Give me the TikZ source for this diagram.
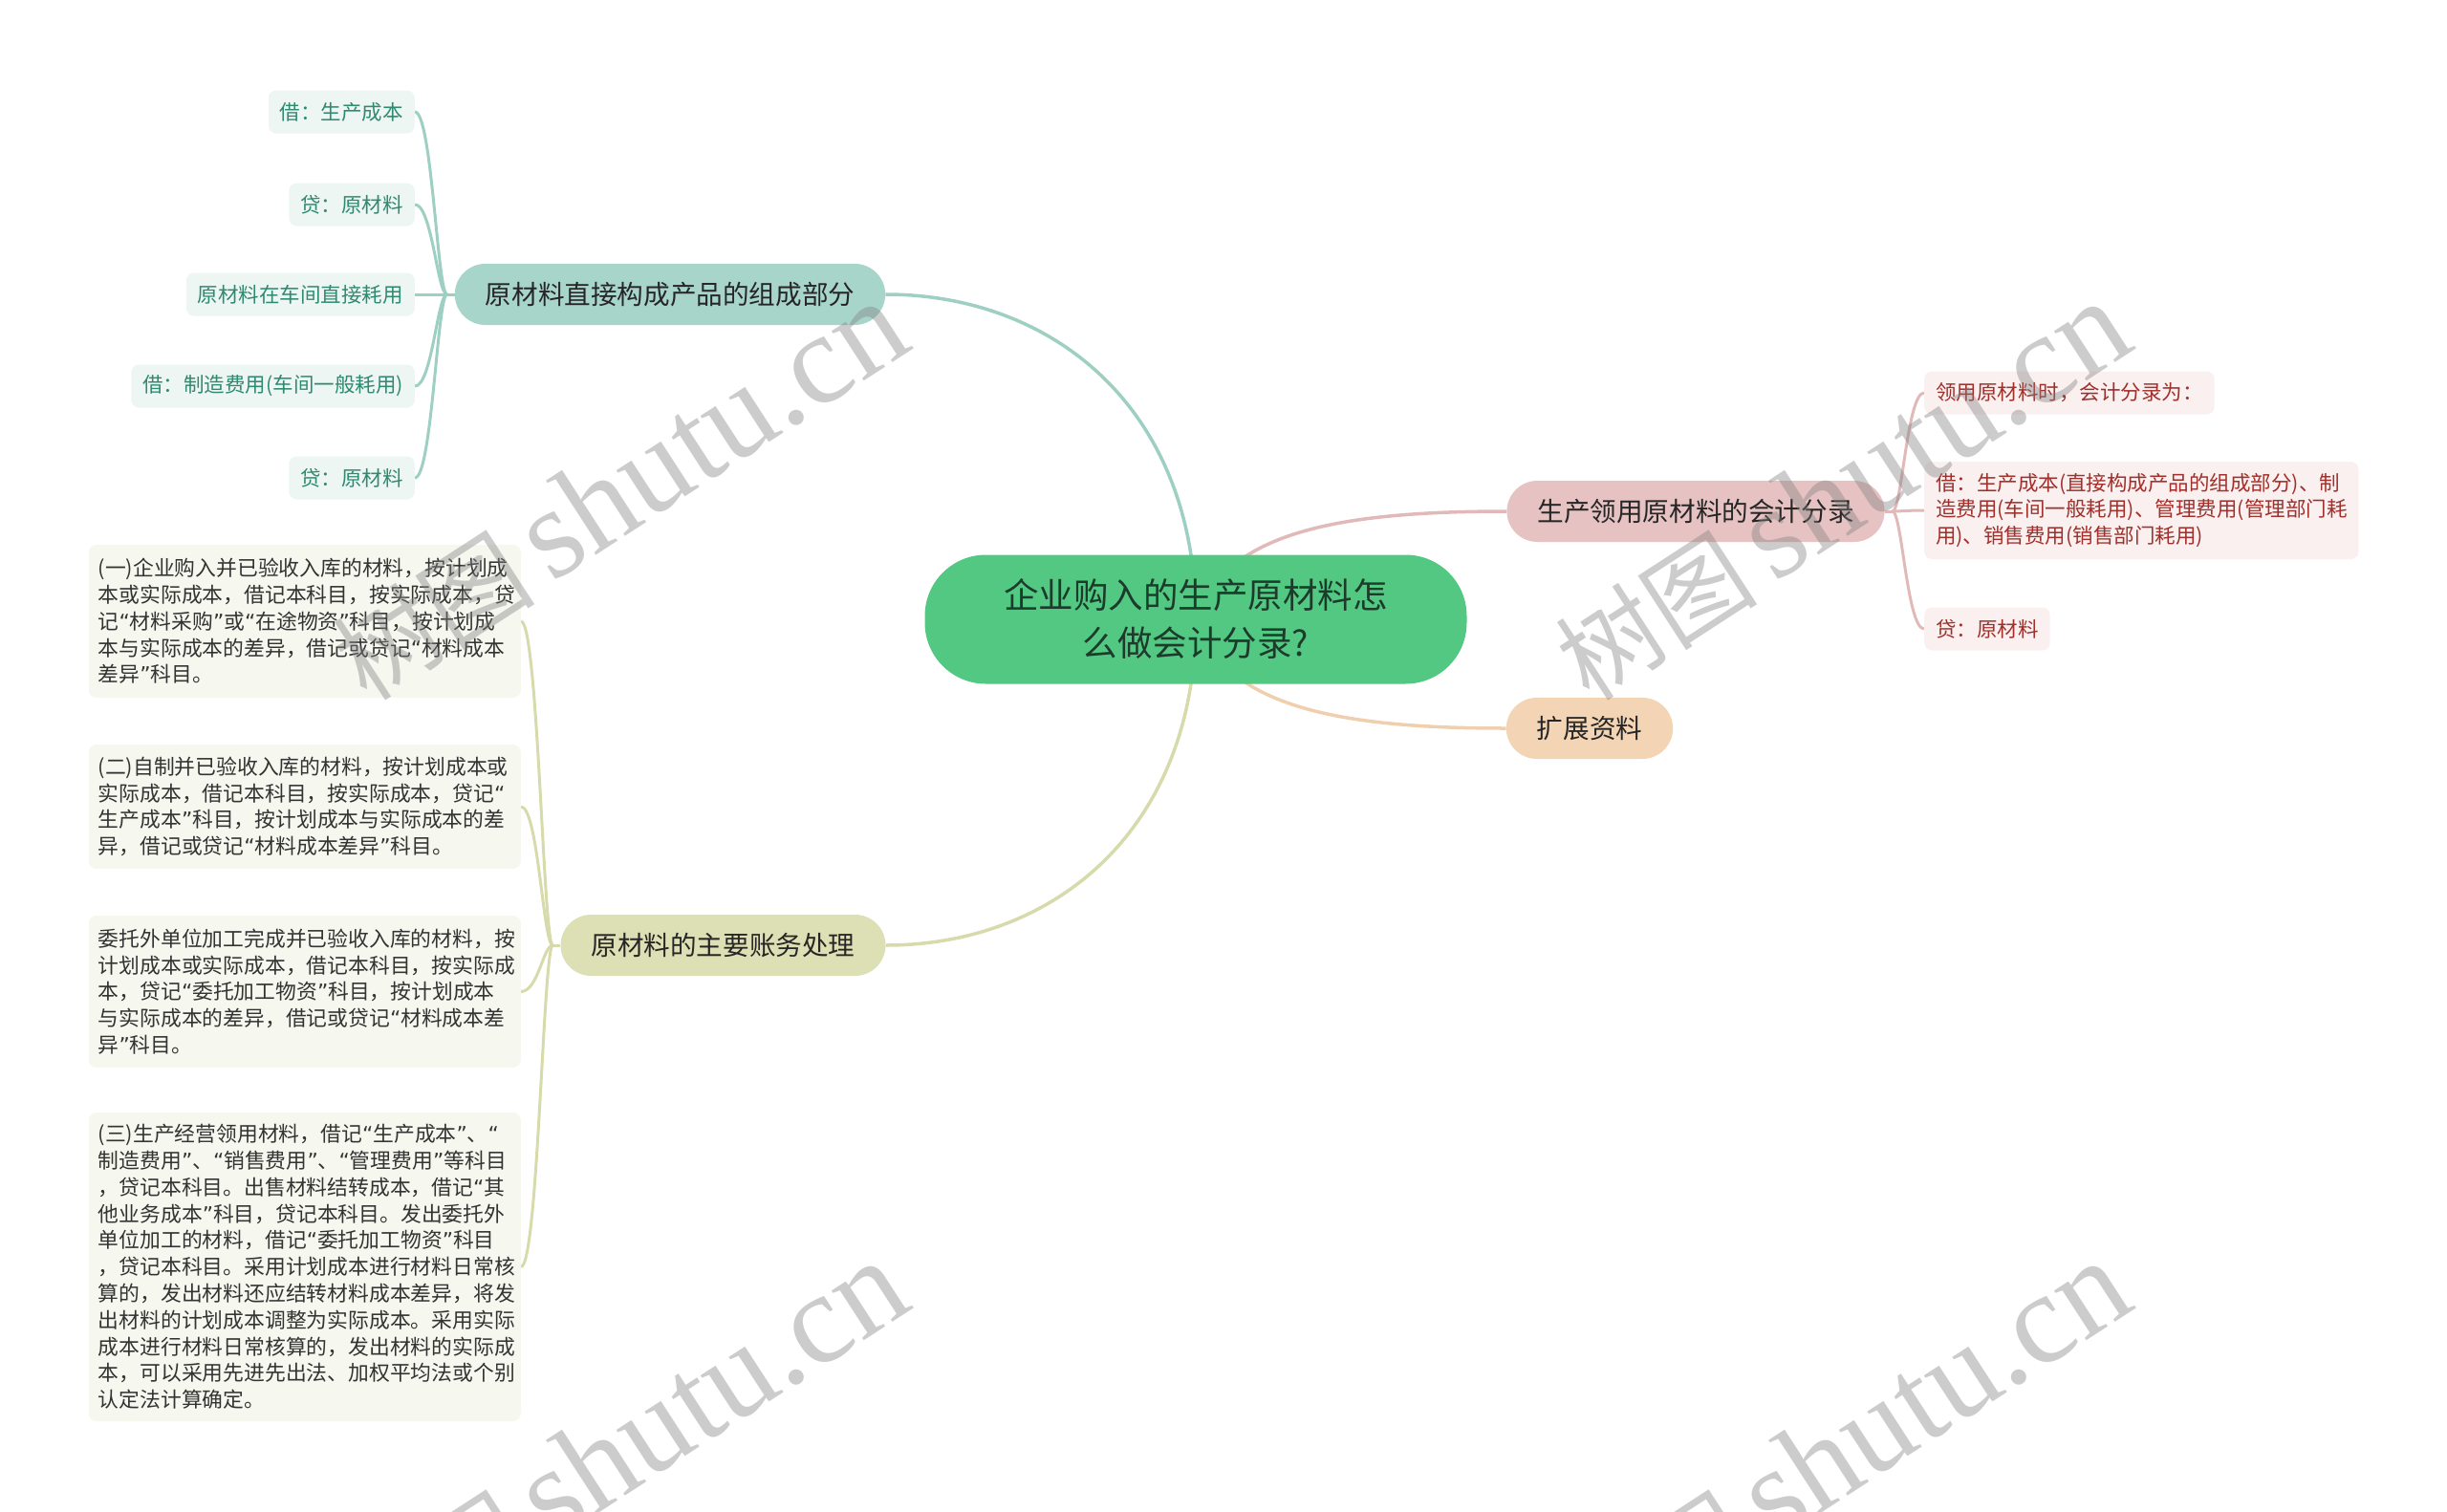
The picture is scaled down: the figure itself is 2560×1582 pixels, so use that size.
\documentclass[tikz,border=0pt]{standalone}
\usepackage{fontspec}
\setmainfont{Noto Sans CJK SC}
\newfontfamily\wmlatin{Liberation Serif}
\newfontfamily\latinq{DejaVu Sans}
\newcommand\myoq{{\latinq “}}
\newcommand\mycq{{\latinq ”}}
\usetikzlibrary{backgrounds}
\definecolor{rootfill}{HTML}{52C883}
\definecolor{roottext}{HTML}{1C3B2A}
\definecolor{tlfill}{HTML}{A8D5CA}
\definecolor{tlleaf}{HTML}{EDF6F3}
\definecolor{tltext}{HTML}{2E8A70}
\definecolor{tledge}{HTML}{9ECFC3}
\definecolor{blfill}{HTML}{DDE0B4}
\definecolor{blleaf}{HTML}{F6F7EE}
\definecolor{bltext}{HTML}{333333}
\definecolor{bledge}{HTML}{D7DBAB}
\definecolor{trfill}{HTML}{E6C2C2}
\definecolor{trleaf}{HTML}{FAF0F0}
\definecolor{trtext}{HTML}{A0302B}
\definecolor{tredge}{HTML}{E2B9B9}
\definecolor{brfill}{HTML}{F3D4B4}
\definecolor{bredge}{HTML}{F0CFAE}
\definecolor{maintext}{HTML}{262626}
\begin{document}
\begin{tikzpicture}[x=1pt,y=-1pt,
  rootnode/.style={fill=rootfill, rounded corners=64pt, minimum width=567pt, minimum height=135pt,
    text=roottext, font=\fontsize{36.5}{50}\selectfont, align=center, inner sep=0pt},
  mainnode/.style={rounded corners=32pt, minimum height=64pt, inner xsep=32pt, inner ysep=0pt,
    font=\fontsize{27.6}{33}\selectfont, text=maintext},
  leafnode/.style={rounded corners=8pt, minimum height=45pt, inner xsep=12pt, inner ysep=0pt,
    font=\fontsize{21.5}{27.8}\selectfont, align=left},
  tlleafnode/.style={leafnode, fill=tlleaf, text=tltext, anchor=east},
  blleafnode/.style={leafnode, fill=blleaf, text=bltext, anchor=east, text width=432pt,
    inner xsep=10pt, font=\fontsize{21.8}{27.8}\selectfont},
  trleafnode/.style={leafnode, fill=trleaf, text=trtext, anchor=west},
  tlline/.style={draw=tledge, line width=3pt},
  blline/.style={draw=bledge, line width=3pt},
  trline/.style={draw=tredge, line width=3pt},
  brline/.style={draw=bredge, line width=3pt},
  wmark/.style={text=black!50, opacity=0.40, rotate=33, font=\fontsize{106}{120}\selectfont, inner sep=0pt}
]
\useasboundingbox (0,0) rectangle (2560,1582);

% root and main branches
\node[rootnode] (root) at (1251,648) {企业购入的生产原材料怎\\么做会计分录?};
\node[mainnode, fill=tlfill] (p1) at (701,308) {原材料直接构成产品的组成部分};
\node[mainnode, fill=blfill] (p2) at (756.5,989) {原材料的主要账务处理};
\node[mainnode, fill=trfill] (p3) at (1774,535) {生产领用原材料的会计分录};
\node[mainnode, fill=brfill] (p4) at (1663,762) {扩展资料};

% top-left leaves
\node[tlleafnode] (a1) at (434,117) {借：生产成本};
\node[tlleafnode] (a2) at (434,214) {贷：原材料};
\node[tlleafnode] (a3) at (434,308) {原材料在车间直接耗用};
\node[tlleafnode] (a4) at (434,404) {借：制造费用(车间一般耗用)};
\node[tlleafnode] (a5) at (434,500) {贷：原材料};

% bottom-left leaves
\node[blleafnode, minimum height=160pt] (b1) at (545,650) {(一)企业购入并已验收入库的材料，按计划成\\本或实际成本，借记本科目，按实际成本，贷\\记\myoq 材料采购\mycq 或\myoq 在途物资\mycq 科目，按计划成\\本与实际成本的差异，借记或贷记\myoq 材料成本\\差异\mycq 科目。};
\node[blleafnode, minimum height=130pt] (b2) at (545,844) {(二)自制并已验收入库的材料，按计划成本或\\实际成本，借记本科目，按实际成本，贷记\myoq\\生产成本\mycq 科目，按计划成本与实际成本的差\\异，借记或贷记\myoq 材料成本差异\mycq 科目。};
\node[blleafnode, minimum height=159pt] (b3) at (545,1037.5) {委托外单位加工完成并已验收入库的材料，按\\计划成本或实际成本，借记本科目，按实际成\\本，贷记\myoq 委托加工物资\mycq 科目，按计划成本\\与实际成本的差异，借记或贷记\myoq 材料成本差\\异\mycq 科目。};
\node[blleafnode, minimum height=323pt] (b4) at (545,1325.5) {(三)生产经营领用材料，借记\myoq 生产成本\mycq 、\myoq\\制造费用\mycq 、\myoq 销售费用\mycq 、\myoq 管理费用\mycq 等科目\\，贷记本科目。出售材料结转成本，借记\myoq 其\\他业务成本\mycq 科目，贷记本科目。发出委托外\\单位加工的材料，借记\myoq 委托加工物资\mycq 科目\\，贷记本科目。采用计划成本进行材料日常核\\算的，发出材料还应结转材料成本差异，将发\\出材料的计划成本调整为实际成本。采用实际\\成本进行材料日常核算的，发出材料的实际成\\本，可以采用先进先出法、加权平均法或个别\\认定法计算确定。};

% right leaves
\node[trleafnode] (c1) at (2013,411) {领用原材料时，会计分录为：};
\node[trleafnode, minimum height=102pt] (c2) at (2013,534) {借：生产成本(直接构成产品的组成部分)、制\\造费用(车间一般耗用)、管理费用(管理部门耗\\用)、销售费用(销售部门耗用)};
\node[trleafnode] (c3) at (2013,658) {贷：原材料};

\begin{pgfonlayer}{background}
  % root connectors
  \draw[tlline, line width=3.5pt] (root.center) .. controls +(0,-218) and +(178,0) .. (p1.east);
  \draw[blline, line width=3.5pt] (root.center) .. controls +(0,218) and +(178,0) .. (p2.east);
  \draw[trline, line width=3.5pt] (root.center) .. controls +(30,-90) and +(-180,0) .. (p3.west);
  \draw[brline, line width=3.5pt] (root.center) .. controls +(30,90) and +(-180,0) .. (p4.west);
  % top-left group
  \draw[tlline] (p1.west) -- ++(-8,0) coordinate (j1);
  \foreach \n in {a1,a2,a3,a4,a5}
    \draw[tlline] (j1) .. controls +(-10,0) and +(18,0) .. (\n.east);
  % bottom-left group
  \draw[blline] (p2.west) -- ++(-8,0) coordinate (j2);
  \foreach \n in {b1,b2,b3,b4}
    \draw[blline] (j2) .. controls +(-10,0) and +(18,0) .. (\n.east);
  % right group
  \draw[trline] (p3.east) -- ++(8,0) coordinate (j3);
  \foreach \n in {c1,c2,c3}
    \draw[trline] (j3) .. controls +(10,0) and +(-18,0) .. (\n.west);
\end{pgfonlayer}

% watermarks
\node[wmark] (w1) at (648,514) {树图\,{\wmlatin\fontsize{135}{140}\selectfont shutu.cn}};
\node[wmark] (w2) at (1927,514) {树图\,{\wmlatin\fontsize{135}{140}\selectfont shutu.cn}};
\node[wmark] (w3) at (648,1518) {树图\,{\wmlatin\fontsize{135}{140}\selectfont shutu.cn}};
\node[wmark] (w4) at (1927,1518) {树图\,{\wmlatin\fontsize{135}{140}\selectfont shutu.cn}};
\end{tikzpicture}
\end{document}
